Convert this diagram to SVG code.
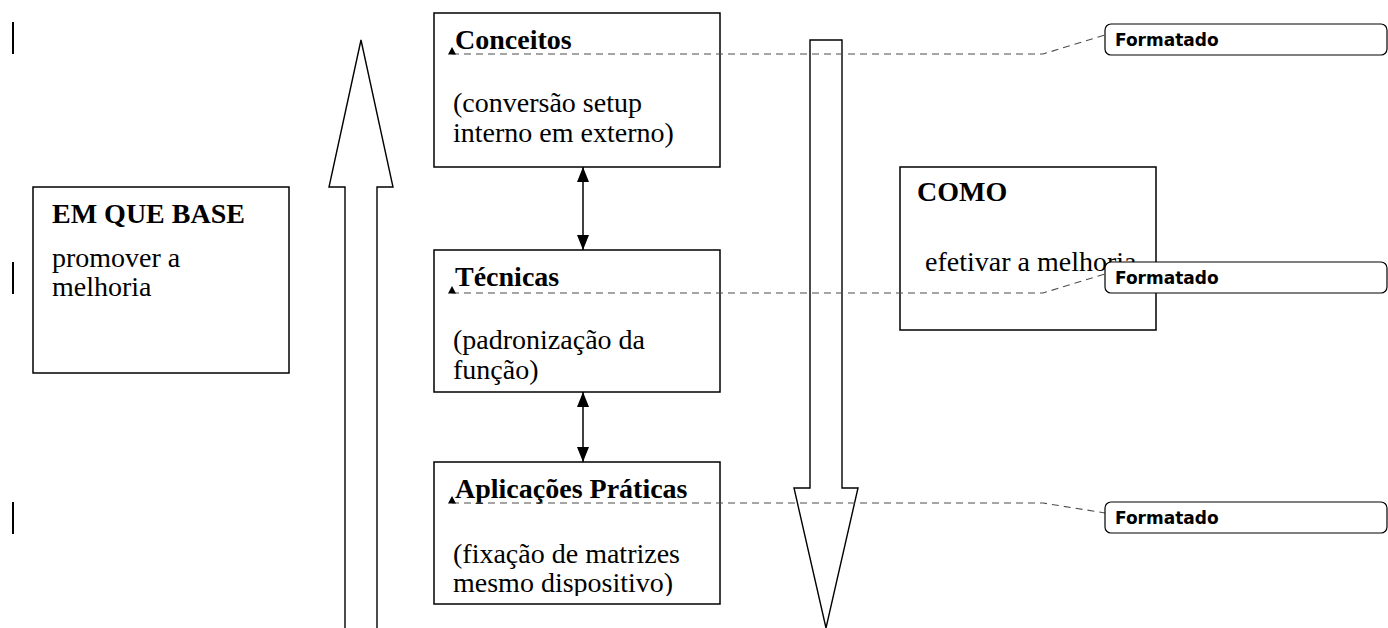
<svg xmlns="http://www.w3.org/2000/svg" width="1388" height="628" viewBox="0 0 1388 628">
  <defs>
    <style>
      .box { fill: #ffffff; stroke: #000000; stroke-width: 1.5; }
      .big { fill: none; stroke: #000000; stroke-width: 1.4; stroke-linejoin: miter; }
      .head { font-family: "Liberation Serif", "Times New Roman", serif; font-size: 28px; font-weight: bold; fill: #000000; }
      .body { font-family: "Liberation Serif", "Times New Roman", serif; font-size: 28px; fill: #000000; }
      .lead { fill: none; stroke: #4d4d4d; stroke-width: 1.1; stroke-dasharray: 7 5; }
      .balloon { fill: #ffffff; stroke: #000000; stroke-width: 1.2; }
      .balloon-text { font-family: "DejaVu Sans", Verdana, sans-serif; font-size: 17px; font-weight: bold; fill: #000000; }
      .bar { stroke: #000000; stroke-width: 2; }
      .link { stroke: #000000; stroke-width: 1.5; fill: none; }
    </style>
    <marker id="tri" viewBox="0 0 15 12" refX="15" refY="6" markerWidth="15" markerHeight="12" markerUnits="userSpaceOnUse" orient="auto-start-reverse">
      <path d="M0,0 L15,6 L0,12 z" fill="#000000"/>
    </marker>
    <marker id="anchor" viewBox="0 0 8 8" refX="4" refY="7" markerWidth="8" markerHeight="8" markerUnits="userSpaceOnUse" orient="0">
      <path d="M0,7.5 L8,7.5 L4,0 z" fill="#000000"/>
    </marker>
    <clipPath id="clipApl">
      <rect x="434" y="462" width="286" height="134"/>
    </clipPath>
  </defs>

  <rect x="0" y="0" width="1388" height="628" fill="#ffffff"/>

  <!-- change bars in the margin -->
  <g id="change-bars">
    <line class="bar" x1="13" y1="22" x2="13" y2="54"/>
    <line class="bar" x1="13" y1="262" x2="13" y2="294"/>
    <line class="bar" x1="13" y1="502" x2="13" y2="534"/>
  </g>

  <!-- large upward block arrow -->
  <g id="arrow-up">
    <path class="big" d="M345,628 L345,187 L329,187 L361,40 L393,187 L377,187 L377,628"/>
  </g>

  <!-- large downward block arrow -->
  <g id="arrow-down">
    <path class="big" d="M810,40 L842,40 L842,488 L858,488 L826,628 L794,488 L810,488 Z"/>
  </g>

  <g id="em-que-base">
    <rect class="box" x="33" y="187" width="256" height="186"/>
    <text class="head" x="52" y="223">EM QUE BASE</text>
    <text class="body" x="52" y="267">promover a</text>
    <text class="body" x="52" y="296">melhoria</text>
  </g>

  <g id="conceitos">
    <rect class="box" x="434" y="13" width="286" height="154"/>
    <text class="head" x="455" y="49">Conceitos</text>
    <text class="body" x="453" y="112">(conversão setup</text>
    <text class="body" x="453" y="142">interno em externo)</text>
  </g>

  <g id="tecnicas">
    <rect class="box" x="434" y="250" width="286" height="142"/>
    <text class="head" x="455" y="286">Técnicas</text>
    <text class="body" x="453" y="349">(padronização da</text>
    <text class="body" x="453" y="379">função)</text>
  </g>

  <g id="aplicacoes">
    <rect class="box" x="434" y="462" width="286" height="142"/>
    <g clip-path="url(#clipApl)">
      <text class="head" x="455" y="498">Aplicações Práticas</text>
      <text class="body" x="453" y="563">(fixação de matrizes</text>
      <text class="body" x="453" y="592">mesmo dispositivo)</text>
    </g>
  </g>

  <g id="como">
    <rect class="box" x="900" y="167" width="256" height="163"/>
    <text class="head" x="917" y="201">COMO</text>
    <text class="body" x="925" y="271">efetivar a melhoria</text>
  </g>

  <!-- connectors between the stacked boxes -->
  <g id="connectors">
    <line class="link" x1="583" y1="167" x2="583" y2="250" marker-start="url(#tri)" marker-end="url(#tri)"/>
    <line class="link" x1="583" y1="392" x2="583" y2="462" marker-start="url(#tri)" marker-end="url(#tri)"/>
  </g>

  <!-- comment leaders and balloons -->
  <g id="note-1">
    <path class="lead" d="M452,54 L1043,54 L1105,35" marker-start="url(#anchor)"/>
    <rect class="balloon" x="1105" y="24" width="282" height="31" rx="6"/>
    <text class="balloon-text" x="1115" y="46">Formatado</text>
  </g>
  <g id="note-2">
    <path class="lead" d="M452,293 L1043,293 L1105,274" marker-start="url(#anchor)"/>
    <rect class="balloon" x="1105" y="262" width="282" height="31" rx="6"/>
    <text class="balloon-text" x="1115" y="284">Formatado</text>
  </g>
  <g id="note-3">
    <path class="lead" d="M452,503 L1043,503 L1105,513" marker-start="url(#anchor)"/>
    <rect class="balloon" x="1105" y="502" width="282" height="31" rx="6"/>
    <text class="balloon-text" x="1115" y="524">Formatado</text>
  </g>
</svg>
